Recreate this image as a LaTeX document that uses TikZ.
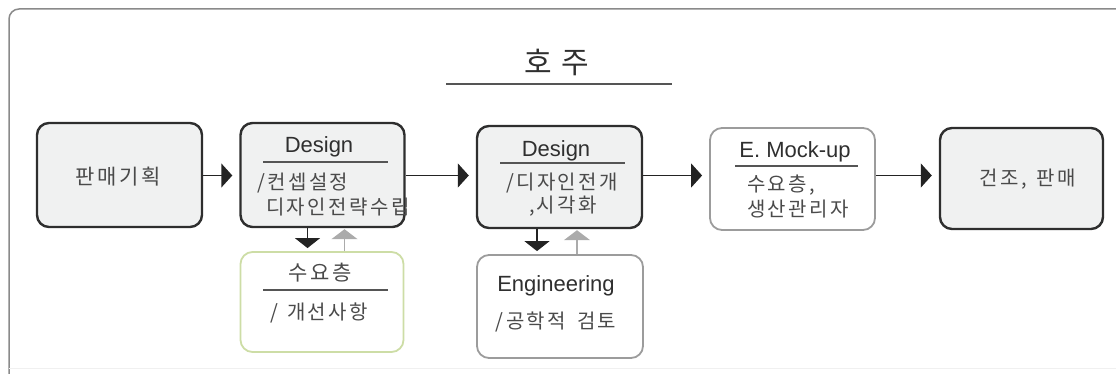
\documentclass[tikz,border=0pt]{standalone}
\usepackage{fontspec}
\setmainfont{Liberation Sans}
\newfontfamily\kr[LetterSpace=12]{Noto Sans CJK KR}
\usetikzlibrary{arrows.meta}

\definecolor{framegray}{HTML}{8A8A8A}
\definecolor{boxdark}{HTML}{2E2E2E}
\definecolor{boxfill}{HTML}{F0F1F1}
\definecolor{boxgray}{HTML}{9C9C9C}
\definecolor{boxgreen}{HTML}{CDDDA6}
\definecolor{arrowdark}{HTML}{232323}
\definecolor{arrowgray}{HTML}{ABABAB}
\definecolor{txtdark}{HTML}{2F2F2F}
\definecolor{txtkr}{HTML}{4A4A4A}
\definecolor{rulegray}{HTML}{555555}

\tikzset{
  darkbox/.style={draw=boxdark, fill=boxfill, line width=2.4pt, rounded corners=12pt, inner sep=0pt},
  graybox/.style={draw=boxgray, fill=white, line width=1.8pt, rounded corners=12pt, inner sep=0pt},
  greenbox/.style={draw=boxgreen, fill=white, line width=1.8pt, rounded corners=12pt, inner sep=0pt},
  lat/.style={font=\fontsize{22}{26}\selectfont, text=txtdark, inner sep=0pt, anchor=base},
  kor/.style={font=\kr\fontsize{20}{24}\selectfont, text=txtkr, inner sep=0pt},
  flow/.style={draw=arrowdark, line width=1.5pt, -{Triangle[width=24pt,length=11pt]}, shorten >=7pt},
  godown/.style={draw=arrowdark, line width=1.5pt, -{Triangle[width=25pt,length=10pt]}, shorten >=3pt},
  goup/.style={draw=arrowgray, line width=1.5pt, -{Triangle[width=26pt,length=10pt]}, shorten >=1pt},
  seprule/.style={draw=rulegray, line width=1.2pt},
}

\begin{document}
\begin{tikzpicture}[x=1pt, y=-1pt]
\useasboundingbox (0,0) rectangle (1116,374);

% outer frame
\draw[framegray, line width=1.5pt, rounded corners=10pt] (1120,9) -- (9,9) -- (9,380);
\draw[black!6, line width=1pt] (9,368) -- (1120,368);

% title
\node[font=\kr\fontsize{30}{35}\selectfont, text=txtdark, inner sep=0pt] (title) at (557,62) {호\hspace{9pt}주};
\coordinate (tl) at (446,84);
\coordinate (tr) at (672,84);
\draw[rulegray, line width=1.5pt] (tl) -- (tr);

% main row of boxes
\node[darkbox, minimum width=165pt, minimum height=104pt] (b1) at (119.5,175) {};
\node[darkbox, minimum width=164pt, minimum height=104pt] (b2) at (322.5,175) {};
\node[darkbox, minimum width=165pt, minimum height=102pt] (b3) at (559.5,177) {};
\node[graybox, minimum width=165pt, minimum height=102pt] (b4) at (792.5,179) {};
\node[darkbox, minimum width=163pt, minimum height=101pt] (b5) at (1021.5,178.5) {};

% lower boxes
\node[greenbox, minimum width=163pt, minimum height=100pt] (dem) at (322,302) {};
\node[graybox, minimum width=166pt, minimum height=103pt] (eng) at (560,306.5) {};

% box 1
\node[kor, font=\kr\fontsize{21}{25}\selectfont] (t1) at (118,177) {판매기획};

% box 2
\node[lat] (t2h) at (319,153) {Design};
\coordinate (r2a) at (263,162);
\coordinate (r2b) at (388,162);
\draw[seprule] (r2a) -- (r2b);
\node[kor, anchor=west] (t2a) at (257,183) {/컨셉설정};
\node[kor, anchor=west] (t2b) at (266,207) {디자인전략수립};

% box 3
\node[lat] (t3h) at (556,157) {Design};
\coordinate (r3a) at (500,163);
\coordinate (r3b) at (625,163);
\draw[seprule] (r3a) -- (r3b);
\node[kor] (t3a) at (562,183.5) {/디자인전개};
\node[kor] (t3b) at (563,206) {,시각화};

% box 4
\node[lat] (t4h) at (795,158) {E. Mock-up};
\coordinate (r4a) at (735,166);
\coordinate (r4b) at (858,166);
\draw[seprule] (r4a) -- (r4b);
\node[kor, anchor=west] (t4a) at (747,185) {수요층,};
\node[kor, anchor=west] (t4b) at (747,209.5) {생산관리자};

% box 5
\node[kor, font=\kr\fontsize{20}{24}\selectfont] (t5) at (1028,179) {건조,\hspace{10pt}판매};

% demand box
\node[kor, font=\kr\fontsize{21}{25}\selectfont] (td1) at (320,273) {수요층};
\coordinate (rda) at (263,290);
\coordinate (rdb) at (388,290);
\draw[seprule] (rda) -- (rdb);
\node[kor] (td2) at (319,313) {/\hspace{9pt}개선사항};

% engineering box
\node[lat] (te1) at (556,291) {Engineering};
\node[kor] (te2) at (556,322) {/공학적\hspace{11pt}검토};

% horizontal flow
\coordinate (row) at (0,175.5);
\draw[flow] (b1.east |- row) -- (b2.west |- row);
\draw[flow] (b2.east |- row) -- (b3.west |- row);
\draw[flow] (b3.east |- row) -- (b4.west |- row);
\draw[flow] (b4.east |- row) -- (b5.west |- row);

% feedback loops
\draw[godown] ([xshift=-15pt]b2.south) -- ([xshift=-15pt]b2.south |- dem.north);
\draw[goup] ([xshift=22pt]b2.south |- dem.north) -- ([xshift=22pt]b2.south);
\draw[godown] ([xshift=-22.5pt]b3.south) -- ([xshift=-22.5pt]b3.south |- eng.north);
\draw[goup] ([xshift=17.5pt]b3.south |- eng.north) -- ([xshift=17.5pt]b3.south);
\end{tikzpicture}
\end{document}
